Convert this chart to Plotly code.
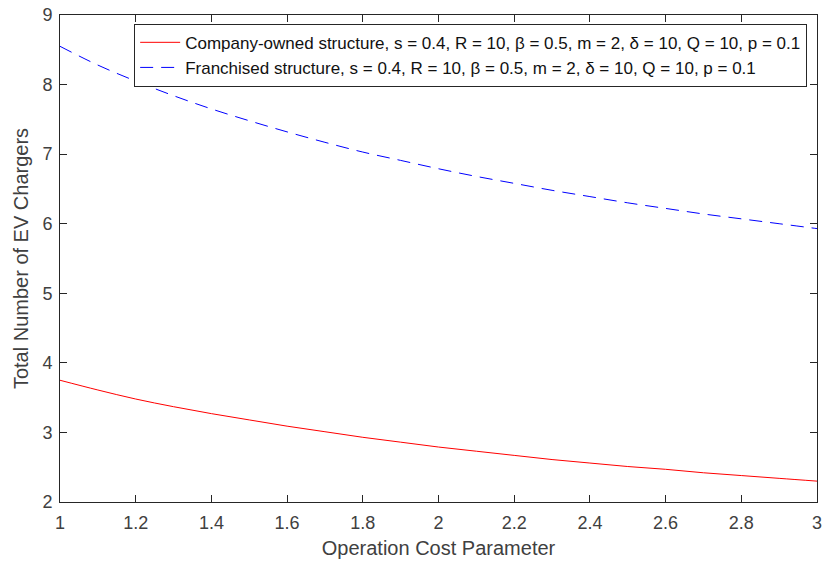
import plotly.graph_objects as go

x_vals = [1.0, 1.1, 1.2, 1.3, 1.4, 1.5, 1.6, 1.7, 1.8, 1.9, 2.0,
          2.1, 2.2, 2.3, 2.4, 2.5, 2.6, 2.7, 2.8, 2.9, 3.0]
company_owned = [3.75, 3.61, 3.48, 3.37, 3.27, 3.18, 3.09, 3.01, 2.93, 2.86, 2.79,
                 2.73, 2.67, 2.61, 2.56, 2.51, 2.47, 2.42, 2.38, 2.34, 2.30]
franchised = [8.55, 8.28, 8.05, 7.84, 7.65, 7.48, 7.32, 7.17, 7.03, 6.91, 6.79,
              6.68, 6.58, 6.48, 6.39, 6.30, 6.22, 6.14, 6.07, 6.00, 5.93]

name_company = "Company-owned structure, s = 0.4, R = 10, β = 0.5, m = 2, δ = 10, Q = 10, p = 0.1"
name_franch = "Franchised structure, s = 0.4, R = 10, β = 0.5, m = 2, δ = 10, Q = 10, p = 0.1"

x_ticks = [1, 1.2, 1.4, 1.6, 1.8, 2, 2.2, 2.4, 2.6, 2.8, 3]
x_tick_text = ["1", "1.2", "1.4", "1.6", "1.8", "2", "2.2", "2.4", "2.6", "2.8", "3"]
y_ticks = [2, 3, 4, 5, 6, 7, 8, 9]

fig = go.Figure()
fig.add_trace(go.Scatter(x=x_vals, y=company_owned, mode="lines", name=name_company,
                         line=dict(color="#ff0000", width=1, shape="spline")))
fig.add_trace(go.Scatter(x=x_vals, y=franchised, mode="lines", name=name_franch,
                         line=dict(color="#0000ff", width=1, dash="13px,8px", shape="spline")))

font_family = "Liberation Sans, Arial, Helvetica, sans-serif"
axis_common = dict(
    showgrid=False, zeroline=False, showline=True, linecolor="#262626", linewidth=1,
    mirror="allticks", ticks="inside", ticklen=7, tickcolor="#262626",
    tickfont=dict(family=font_family, size=18, color="#404040"),
)

fig.update_layout(
    width=826, height=564,
    margin=dict(l=60, r=4, t=15, b=62),
    paper_bgcolor="white", plot_bgcolor="white",
    font=dict(family=font_family, color="#404040"),
    xaxis=dict(range=[1, 3], tickvals=x_ticks, ticktext=x_tick_text,
               ticklabeloverflow="allow", ticklabelstandoff=4,
               title=dict(text="Operation Cost Parameter", font=dict(size=20, color="#404040"), standoff=9),
               **axis_common),
    yaxis=dict(range=[2, 9], tickvals=y_ticks, ticklabelstandoff=3,
               title=dict(text="Total Number of EV Chargers", font=dict(size=20, color="#404040"), standoff=8),
               **axis_common),
    legend=dict(x=0.987, y=0.982, xanchor="right", yanchor="top",
                bgcolor="white", bordercolor="#262626", borderwidth=1,
                font=dict(family=font_family, size=17, color="#111111"),
                tracegroupgap=0, itemwidth=40),
    showlegend=True,
)

fig.write_html("out.html")
